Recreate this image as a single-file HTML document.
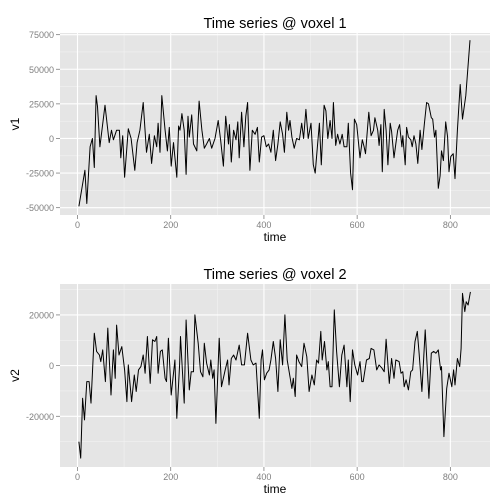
<!DOCTYPE html>
<html><head><meta charset="utf-8"><style>
body{margin:0;background:#fff;}
svg{display:block;font-family:"Liberation Sans",sans-serif;}
</style></head><body>
<svg id="chart" width="504" height="504"></svg>
<script>
const t1=[3,16,20,27,32,36,40,43,48,59,68,73,77,84,90,93,97,101,109,115,123,128,134,141,148,154,159,165,170,173,177,181,188,193,197,201,206,213,217,220,224,229,233,237,240,245,249,256,261,
267,272,277,283,288,295,302,307,313,318,324,326,330,335,340,344,347,352,357,361,365,370,375,381,386,390,395,400,405,410,415,420,425,430,435,440,444,449,453,456,460,465,470,476,481,485,490,495,501,506,510,515,519,523,529,533,537,542,546,549,554,558,563,568,572,578,
581,586,590,594,599,606,611,615,618,625,630,635,638,644,647,651,654,658,662,666,671,674,679,683,687,691,696,698,703,706,710,715,718,722,726,730,735,739,744,749,753,759,762,766,769,774,778,781,785,790,794,797,801,806,810,815,821,826,833,842];
const v1=[-49,-23,-47,-6,0,-21,31,23,-6,24,-3,6,-1,6,6,-14,2,-28,7,0,-23,-3,6,26,-10,3,-18,2,-6,11,-10,31,6,-9,8,-20,-3,-28,9,6,18,6,-26,16,1,17,-4,-9,27,
6,-7,-4,0,-7,0,13,-1,-20,16,-4,10,-17,6,-1,12,-14,19,-6,16,26,-23,6,3,8,-17,1,2,-6,-4,-10,6,-16,-4,12,3,-10,19,6,13,1,-7,0,-1,11,0,21,0,11,-19,-25,-5,11,-19,24,20,0,13,0,26,-5,3,-4,3,-6,-6,
11,-25,-37,14,10,-14,-1,-6,-11,19,2,6,15,6,-5,10,-24,21,6,-19,11,5,-14,-4,6,10,-6,2,-19,8,1,-1,-6,2,-4,-18,6,-8,10,26,25,15,14,1,6,-36,-27,-9,-16,12,1,-24,-13,-11,-29,6,39,14,31,71];
const t2=[3,7,11,15,20,25,29,36,41,47,50,54,60,65,72,77,81,84,89,95,101,106,109,116,122,126,131,136,141,145,150,156,161,166,170,173,178,182,188,191,195,201,209,213,219,221,229,233,240,244,249,252,259,264,
269,272,277,283,286,290,293,297,304,309,317,322,325,330,335,340,347,352,358,365,372,377,383,390,394,397,401,406,411,415,420,425,430,435,440,445,450,456,460,463,467,470,475,481,486,492,497,503,508,513,517,522,525,530,535,538,542,546,551,556,562,567,572,
578,581,585,590,595,601,606,610,613,620,626,630,636,642,647,653,658,662,669,674,679,683,690,694,698,701,705,710,715,719,724,729,733,739,746,754,759,764,769,774,779,781,786,792,797,803,807,810,815,820,823,826,831,834,838,843];
const v2=[-30,-36.5,-12.9,-21.4,-6.3,-6.3,-14.8,12.8,5.6,4.2,1.6,6.2,-6.3,14.8,-11.6,6.2,-5,16,4.2,7.5,-1.7,-14.2,0.3,-14.2,-3.7,-10.2,-1.7,-0.4,4.2,-3,11.5,-7,10.2,9.5,11.5,-3,5.6,6.2,-5,-6.3,10.8,-11.6,2.2,-20.8,0.3,11.5,-14.8,18,-9.6,-2.4,-2.4,20,8.8,-2.4,
-4.4,8.8,1,-3.7,2.2,-5,-1.7,-22.8,10.8,-8.3,-1.7,2.2,-7.6,2.8,4.2,2.2,8.1,0.3,0.3,12.8,2.2,0.3,1,-20.8,2.2,6.2,-5.6,-3,-1.7,2.2,9.5,2.8,-10.2,10.2,0.3,20,2.2,-4.4,-9,-5,-12.2,4.2,1.6,-0.4,8.8,3.5,-10.2,-3.7,-7.6,2.2,1,13.5,2.2,9.5,-1.7,1.6,-8.3,-8.3,22,5.6,-8.3,4.2,8.1,
-8.3,2.2,-14.2,6.2,0.3,-3.7,1.6,-6.3,-6.3,2.2,2.8,6.8,6.2,-1.7,0.3,-1,-2.4,10.4,-7,2.8,-5,2.2,1.6,-3,-2.4,-8.3,-5.6,-9.6,-2.4,-1.7,9.5,13.5,4.9,-10.2,14.1,-12.9,4.9,5.6,4.9,6.2,-1.7,-0.4,-28,-9,-3,-8.3,-1.7,-7.6,2.8,-0.4,6.8,28.5,21.3,25.2,23.9,29.1];
const xTicks=[0,200,400,600,800];
const y1Ticks=[-50000,-25000,0,25000,50000,75000];
const y1Labels=["-50000","-25000","0","25000","50000","75000"];
const y2Ticks=[-20000,0,20000];
const y2Labels=["-20000","0","20000"];

const NS="http://www.w3.org/2000/svg";
const svg=document.getElementById('chart');
function mk(tag,attrs,parent,text){const e=document.createElementNS(NS,tag);for(const k in attrs)e.setAttribute(k,attrs[k]);if(text!==undefined)e.textContent=text;(parent||svg).appendChild(e);return e;}
const L=60,R=490;
const xs=t=>L+(t+37.5)*(R-L)/(885+37.5);
function panel(idx,top,bot,yMin,yMax,ticks,labels,ts,vs,scale,title,ylab){
  const g=mk('g',{});
  
  
  const ys=v=>bot-(v-yMin)*(bot-top)/(yMax-yMin);
  const bg=mk('rect',{x:L,y:top,width:R-L,height:bot-top,fill:'#e5e5e5'},g);
  
  
  const step=ticks[1]-ticks[0];
  for(let m=ticks[0]-step/2;m<=ticks[ticks.length-1]+step/2;m+=step){const y=ys(m);if(y>top&&y<bot)mk('line',{x1:L,x2:R,y1:y,y2:y,stroke:'#f2f2f2','stroke-width':0.6},g);}
  [100,300,500,700].forEach(m=>mk('line',{x1:xs(m),x2:xs(m),y1:top,y2:bot,stroke:'#f2f2f2','stroke-width':0.6},g));
  ticks.forEach((v,i)=>{
    mk('line',{x1:L,x2:R,y1:ys(v),y2:ys(v),stroke:'#fff','stroke-width':1.1},g);
    mk('line',{x1:L-4,x2:L,y1:ys(v),y2:ys(v),stroke:'#7f7f7f','stroke-width':0.8},g);
    const tl=mk('text',{x:L-6,y:ys(v)+3.5,'text-anchor':'end','font-size':9,fill:'#7f7f7f'},g,labels[i]);
    
    
  });
  xTicks.forEach(t=>{
    mk('line',{x1:xs(t),x2:xs(t),y1:top,y2:bot,stroke:'#fff','stroke-width':1.1},g);
    mk('line',{x1:xs(t),x2:xs(t),y1:bot,y2:bot+4,stroke:'#7f7f7f','stroke-width':0.8},g);
    const tl=mk('text',{x:xs(t),y:bot+13,'text-anchor':'middle','font-size':9,fill:'#7f7f7f'},g,String(t));
    
    
  });
  const d=ts.map((t,i)=>(i?'L':'M')+xs(t).toFixed(1)+','+ys(vs[i]*scale).toFixed(1)).join('');
  const p=mk('path',{d:d,fill:'none',stroke:'#000','stroke-width':1,'stroke-linejoin':'round'},g);
  
  
  const ti=mk('text',{x:(L+R)/2,y:top-5,'text-anchor':'middle','font-size':14.5,fill:'#000'},g,title);
  
  
  const xl=mk('text',{x:(L+R)/2,y:bot+26,'text-anchor':'middle','font-size':12,fill:'#000'},g,'time');
  
  
  const cy=(top+bot)/2;
  const yl=mk('text',{x:19,y:cy,'text-anchor':'middle','font-size':12,fill:'#000',transform:'rotate(-90 19 '+cy+')'},g,ylab);
  
  
}
panel(1,33,215,-55300,76200,y1Ticks,y1Labels,t1,v1,1000,'Time series @ voxel 1','v1');
panel(2,284,467,-40000,32200,y2Ticks,y2Labels,t2,v2,1000,'Time series @ voxel 2','v2');
</script>
</body></html>
